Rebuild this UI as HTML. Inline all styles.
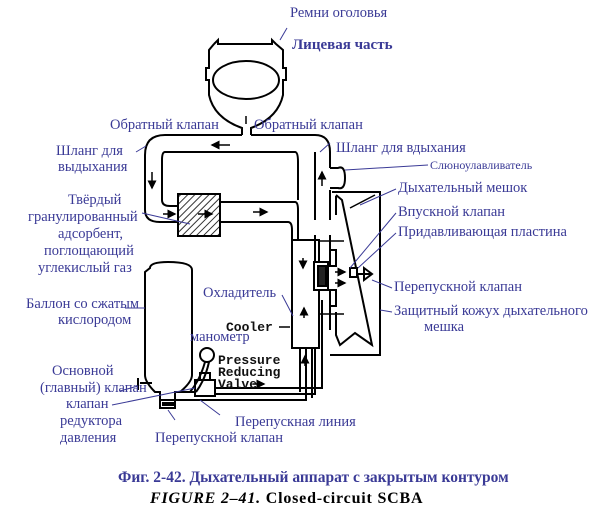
<!DOCTYPE html>
<html><head><meta charset="utf-8"><style>
body{margin:0;background:#fff;}
svg{display:block;}
.b{font-family:"Liberation Serif","Noto Serif CJK SC",serif;font-size:14.5px;fill:#3a3a96;}
.k{font-family:"Liberation Mono",monospace;font-size:13px;fill:#111;font-weight:bold;}
</style></head><body>
<svg width="616" height="512" viewBox="0 0 616 512" xmlns="http://www.w3.org/2000/svg">
<defs>
<pattern id="h" width="5" height="5" patternUnits="userSpaceOnUse" patternTransform="rotate(45)"><line x1="0" y1="0" x2="0" y2="5" stroke="#000" stroke-width="1.6"/></pattern>
<marker id="a" markerWidth="6" markerHeight="6" refX="5" refY="3" orient="auto"><path d="M0,0 L6,3 L0,6z" fill="#000"/></marker>
</defs>
<g fill="none" stroke="#000" stroke-width="2">
<path d="M214,44 L218,40 L218,44 L272,44 L272,40 L276,44 L283,50 L283,68 L286,68 L286,80 L283,80 L283,95 Q278,118 251,128 L251,135 M214,44 L209,50 L209,68 L206,68 L206,80 L209,80 L209,95 Q214,118 242,128 L242,135"/>
<ellipse cx="246" cy="80" rx="33" ry="19"/>
<path d="M242,135 L165,135 Q145,135 145,155 L145,210 Q145,222 160,222 L178,222"/>
<path d="M251,135 L315,135 Q330,135 330,152 L330,168"/>
<path d="M165,152 Q162,152 162,160 L162,200 Q162,206 170,206 L178,206"/>
<path d="M295,152 Q298,152 298,162 L298,200"/>
<line x1="165" y1="152" x2="295" y2="152"/>
<rect x="178" y="194" width="42" height="42" fill="url(#h)"/>
<path d="M220,202 L295,202 Q298,202 298,210 L298,240 M220,222 L288,222 Q292,222 292,230 L292,240"/>
<path d="M315,152 L315,220 M330,190 L330,220 M315,235 L315,290 M330,235 L330,250 M330,300 L330,330"/>
<path d="M330,168 L338,168 Q345,165 345,178 Q345,190 338,188 L330,188"/>
<rect x="292" y="240" width="27" height="108"/>
<path d="M300,348 L300,392 M312,348 L312,398 M322,300 L322,384"/>
<rect x="314" y="262" width="14" height="28" fill="#fff"/><rect x="318" y="266" width="8" height="20" fill="#222"/>
<rect x="330" y="250" width="6" height="16"/><rect x="330" y="290" width="6" height="16"/>
<path d="M332,192 L380,192 L380,355 L330,355"/>
<path d="M336,196 L336,215 M336,195 L342,200 L372,345 L355,333 L340,345 L336,335 L336,312"/>
<line x1="350" y1="208" x2="375" y2="195" stroke-width="1.5"/>
<rect x="350" y="268" width="7" height="9" fill="#fff"/>
<path d="M357,274 L372,274 M364,268 L372,274 L364,280z"/>
<path d="M150,268 Q150,262 168,262 Q192,262 192,270 L192,375 Q192,382 180,392 L175,392 L175,400 L160,400 L160,392 L155,392 Q145,382 145,375 L145,272 Z"/>
<path d="M140,383 L152,383 M138,378 L138,390 M160,400 L160,408 L175,408 L175,400"/>
<line x1="162" y1="404" x2="174" y2="404" stroke-width="4"/>
<path d="M175,392 L195,392 L195,380 L215,380 L215,396 L195,396"/>
<rect x="195" y="380" width="20" height="16" fill="#fff"/>
<rect x="200" y="373" width="10" height="7"/>
<circle cx="207" cy="355" r="7"/><path d="M205,362 Q200,380 190,392 M209,362 Q205,380 196,392"/>
<path d="M215,388 L322,388 L322,384 M215,394 L315,394 L315,348 M175,400 L306,400 L306,348"/>
</g>
<g stroke="#000" stroke-width="1.5" fill="none">
<line x1="230" y1="145" x2="212" y2="145" marker-end="url(#a)"/>
<line x1="152" y1="172" x2="152" y2="188" marker-end="url(#a)"/>
<line x1="163" y1="214" x2="175" y2="214" marker-end="url(#a)"/>
<line x1="198" y1="214" x2="212" y2="214" marker-end="url(#a)"/>
<line x1="253" y1="212" x2="267" y2="212" marker-end="url(#a)"/>
<line x1="322" y1="186" x2="322" y2="172" marker-end="url(#a)"/>
<line x1="246" y1="116" x2="246" y2="124"/>
<line x1="303" y1="258" x2="303" y2="268" marker-end="url(#a)"/>
<line x1="304" y1="318" x2="304" y2="308" marker-end="url(#a)"/>
<line x1="305" y1="366" x2="305" y2="356" marker-end="url(#a)"/>
<line x1="318" y1="241" x2="344" y2="241"/><line x1="318" y1="314" x2="344" y2="314"/>
<line x1="253" y1="384" x2="264" y2="384" marker-end="url(#a)"/>
<line x1="335" y1="272" x2="345" y2="272" marker-end="url(#a)"/>
<line x1="335" y1="283" x2="345" y2="283" marker-end="url(#a)"/>
</g>
<g stroke="#3a3a96" stroke-width="1" fill="none">
<line x1="287" y1="28" x2="280" y2="40"/><line x1="136" y1="152" x2="146" y2="146"/>
<line x1="142" y1="213" x2="190" y2="224"/><line x1="330" y1="143" x2="320" y2="152"/>
<line x1="428" y1="165" x2="345" y2="170"/><line x1="396" y1="189" x2="360" y2="205"/>
<line x1="396" y1="213" x2="350" y2="268"/><line x1="396" y1="233" x2="358" y2="268"/>
<line x1="392" y1="288" x2="372" y2="280"/><line x1="392" y1="312" x2="380" y2="310"/>
<line x1="282" y1="295" x2="293" y2="316"/><line x1="125" y1="308" x2="145" y2="308"/>
<line x1="120" y1="391" x2="138" y2="386"/><line x1="112" y1="405" x2="195" y2="388"/>
<line x1="220" y1="415" x2="200" y2="400"/><line x1="175" y1="420" x2="168" y2="410"/>
</g>
<g class="b">
<text x="290" y="17">Ремни оголовья</text>
<text x="292" y="49" font-weight="bold" font-size="15">Лицевая часть</text>
<text x="110" y="129">Обратный клапан</text>
<text x="254" y="129">Обратный клапан</text>
<text x="56" y="155">Шланг для</text><text x="58" y="171">выдыхания</text>
<text x="336" y="152">Шланг для вдыхания</text>
<text x="430" y="169" font-size="12">Слюноулавливатель</text>
<text x="398" y="192">Дыхательный мешок</text>
<text x="398" y="216">Впускной клапан</text>
<text x="398" y="236">Придавливающая пластина</text>
<text x="394" y="291">Перепускной клапан</text>
<text x="394" y="315">Защитный кожух дыхательного</text>
<text x="424" y="331">мешка</text>
<text x="68" y="204">Твёрдый</text><text x="28" y="221">гранулированный</text>
<text x="58" y="238">адсорбент,</text><text x="44" y="255">поглощающий</text>
<text x="38" y="272">углекислый газ</text>
<text x="26" y="308">Баллон со сжатым</text><text x="58" y="324">кислородом</text>
<text x="203" y="297">Охладитель</text>
<text x="190" y="341">манометр</text>
<text x="52" y="375">Основной</text><text x="40" y="392">(главный) клапан</text>
<text x="66" y="408">клапан</text><text x="60" y="425">редуктора</text><text x="60" y="442">давления</text>
<text x="235" y="426">Перепускная линия</text>
<text x="155" y="442">Перепускной клапан</text>
<text x="118" y="482" font-weight="bold" font-size="15.5">Фиг. 2-42. Дыхательный аппарат с закрытым контуром</text>
<text x="150" y="503" font-weight="bold" font-size="16" letter-spacing="0.8" fill="#000"><tspan font-style="italic">FIGURE 2–41.</tspan>  Closed-circuit SCBA</text>
</g>
<g class="k">
<text x="226" y="331">Cooler</text><line x1="279" y1="327" x2="290" y2="327" stroke="#000" stroke-width="1.5"/>
<text x="218" y="364">Pressure</text><text x="218" y="376">Reducing</text><text x="218" y="388">Valve</text>
</g>
</svg>
</body></html>
